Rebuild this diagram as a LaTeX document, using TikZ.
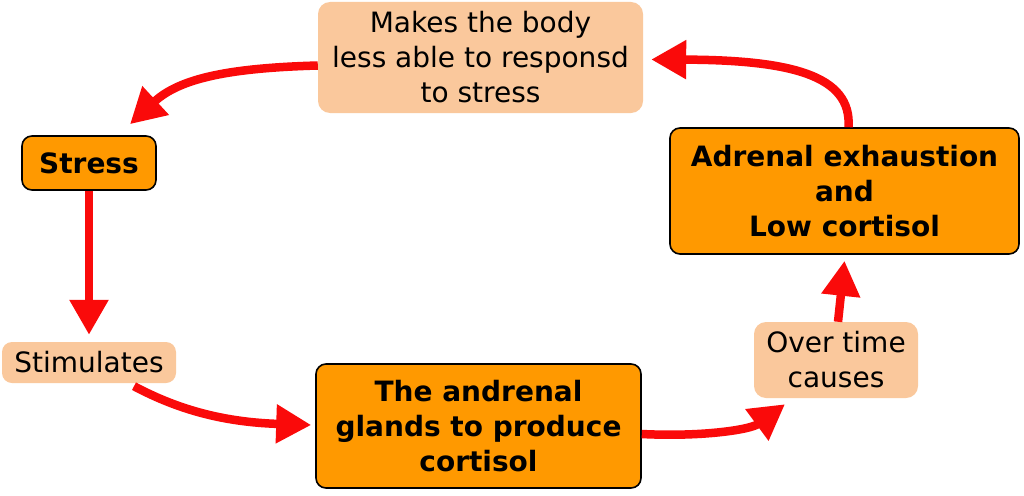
\documentclass[tikz,border=0pt]{standalone}
\usepackage{fontspec}
\setmainfont{DejaVu Sans}
\usetikzlibrary{arrows.meta}
\definecolor{boxorange}{RGB}{255,153,0}
\definecolor{peach}{RGB}{250,200,156}
\definecolor{arrred}{RGB}{250,10,10}
\tikzset{
  mainbox/.style={draw=black, line width=1.6pt, fill=boxorange, rounded corners=10pt, align=center, font=\fontsize{28}{35}\selectfont\bfseries, inner sep=0pt},
  notebox/.style={fill=peach, rounded corners=12pt, align=center, font=\fontsize{28}{35}\selectfont, inner sep=0pt},
  arr/.style={draw=arrred, line width=8.5pt, -{Triangle[length=35pt,width=37pt]}, fill=none}
}
\begin{document}
\begin{tikzpicture}[x=1pt,y=-1pt]
\useasboundingbox[fill=white] (0,0) rectangle (1024,495);
\node[notebox, minimum width=325pt, minimum height=111pt] (mk) at (480.5,57.5) {Makes the body\\less able to responsd\\to stress};
\node[mainbox, minimum width=134pt, minimum height=54pt] (st) at (89,163) {Stress};
\node[notebox, minimum width=174pt, minimum height=41pt, rounded corners=10pt] (stim) at (89,362.5) {Stimulates};
\node[mainbox, minimum width=325pt, minimum height=124pt] (gl) at (478.5,426) {The andrenal\\glands to produce\\cortisol};
\node[notebox, minimum width=164pt, minimum height=76pt] (ov) at (836,360) {Over time\\causes};
\node[mainbox, minimum width=349pt, minimum height=126pt] (ad) at (844.5,191) {Adrenal exhaustion\\and\\Low cortisol};

\draw[arr] ([yshift=-8pt]mk.west) .. controls (230,68) and (180,78) .. ([xshift=41pt,yshift=11pt]st.north);
\draw[arr] (st.south) -- ([yshift=7pt]stim.north);
\draw[arr] ([xshift=45pt,yshift=-3pt]stim.south) .. controls (175,408) and (220,422) .. ([xshift=-4pt,yshift=1pt]gl.west);
\draw[arr] ([yshift=-8pt]gl.east) .. controls (700,437) and (750,430) .. ([xshift=-51pt,yshift=-6pt]ov.south);
\draw[arr] ([xshift=2pt]ov.north) -- ([yshift=-6pt]ad.south);
\draw[arr] ([xshift=4pt]ad.north) .. controls (852,75) and (790,60) .. ([xshift=8pt,yshift=-2pt]mk.east);
\end{tikzpicture}
\end{document}
